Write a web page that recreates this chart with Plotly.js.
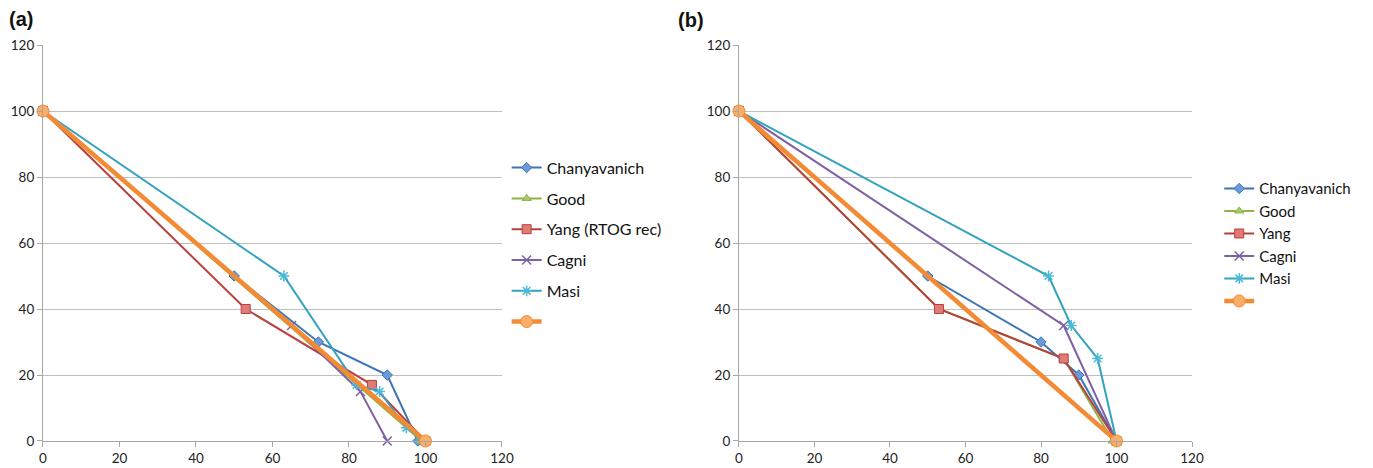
<!DOCTYPE html>
<html><head><meta charset="utf-8">
<script src="https://cdn.plot.ly/plotly-3.0.1.min.js"></script>
<style>html,body{margin:0;padding:0;background:#fff;}#c{width:1373px;height:468px;}</style>
</head><body><div id="c"></div>
<script>
// Panel (a)
const aChanX = [0, 50, 72, 90, 98, 100];
const aChanY = [100, 50, 30, 20, 0, 0];
const aGoodX = [0, 99];
const aGoodY = [100, 0];
const aYangX = [0, 53, 86, 100];
const aYangY = [100, 40, 17, 0];
const aCagniX = [0, 65, 83, 90];
const aCagniY = [100, 35, 15, 0];
const aMasiX = [0, 63, 82, 88, 95, 100];
const aMasiY = [100, 50, 17, 15, 4, 0];
const aRefX = [0, 100];
const aRefY = [100, 0];
// Panel (b)
const bChanX = [0, 50, 80, 90, 100];
const bChanY = [100, 50, 30, 20, 0];
const bGoodX = [0, 53, 86, 99];
const bGoodY = [100, 40, 25, 0];
const bYangX = [0, 53, 86, 100];
const bYangY = [100, 40, 25, 0];
const bCagniX = [0, 86, 100];
const bCagniY = [100, 35, 0];
const bMasiX = [0, 82, 88, 95, 100];
const bMasiY = [100, 50, 35, 25, 0];
const bRefX = [0, 100];
const bRefY = [100, 0];
const namesA = ['Chanyavanich', 'Good', 'Yang (RTOG rec)', 'Cagni', 'Masi', ' '];
const namesB = ['Chanyavanich', 'Good', 'Yang', 'Cagni', 'Masi', ' '];
const xTicks = [0, 20, 40, 60, 80, 100, 120];
const yTicks = [0, 20, 40, 60, 80, 100, 120];

const styles = [
  {line:{color:'#3d74b8', width:2}, marker:{symbol:'diamond', size:8, color:'#6b9bd6', line:{color:'#3d74b8', width:1}}},
  {line:{color:'#8db444', width:2}, marker:{symbol:'triangle-up', size:8, color:'#a6c96a', line:{color:'#8db444', width:1}}},
  {line:{color:'#b8413e', width:2}, marker:{symbol:'square', size:9, color:'#e07b78', line:{color:'#b8413e', width:1}}},
  {line:{color:'#7e61a3', width:2}, marker:{symbol:'x-thin', size:9, color:'#7e61a3', line:{color:'#7e61a3', width:1.5}}},
  {line:{color:'#33a3bf', width:2}, marker:{symbol:'asterisk', size:9, color:'#4bb8d4', line:{color:'#4bb8d4', width:1.5}}},
  {line:{color:'#f38b34', width:4.5}, marker:{symbol:'circle', size:12, color:'#fbae68', line:{color:'#f38b34', width:1}}}
];

const dataA = [[aChanX,aChanY],[aGoodX,aGoodY],[aYangX,aYangY],[aCagniX,aCagniY],[aMasiX,aMasiY],[aRefX,aRefY]];
const dataB = [[bChanX,bChanY],[bGoodX,bGoodY],[bYangX,bYangY],[bCagniX,bCagniY],[bMasiX,bMasiY],[bRefX,bRefY]];
const traces = [];
dataA.forEach((d,i)=>traces.push({x:d[0], y:d[1], type:'scatter', mode:'lines+markers', name:namesA[i],
  xaxis:'x', yaxis:'y', legend:'legend', legendgroup:'a'+i, line:styles[i].line, marker:styles[i].marker, cliponaxis:false}));
dataB.forEach((d,i)=>traces.push({x:d[0], y:d[1], type:'scatter', mode:'lines+markers', name:namesB[i],
  xaxis:'x2', yaxis:'y2', legend:'legend2', legendgroup:'b'+i, line:styles[i].line, marker:styles[i].marker, cliponaxis:false}));

const fnt = {family:'Lato, "Open Sans", sans-serif', size:13.5, color:'#222'};
function xax(dom, anchor){return {domain:dom, anchor:anchor, range:[0,120], tickvals:xTicks, ticktext:xTicks.map(String),
  showgrid:false, zeroline:false, showline:true, linecolor:'#a6a6a6', linewidth:1, ticks:'outside', ticklen:5, tickcolor:'#a6a6a6', tickfont:fnt, fixedrange:true};}
function yax(anchor){return {domain:[0.0577,0.9038], anchor:anchor, range:[0,120], tickvals:yTicks, ticktext:yTicks.map(String),
  showgrid:true, gridcolor:'#bfbfbf', gridwidth:1, zeroline:false, showline:true, linecolor:'#a6a6a6', ticks:'outside', ticklen:5, tickcolor:'#a6a6a6', tickfont:fnt, fixedrange:true};}

const legFontA = {family:'Lato, "Open Sans", sans-serif', size:16, color:'#111'};
const legFontB = {family:'Lato, "Open Sans", sans-serif', size:15, color:'#111'};
const layout = {
  width:1373, height:468, margin:{l:0,r:0,t:0,b:0}, paper_bgcolor:'#fff', plot_bgcolor:'#fff', showlegend:true,
  xaxis: xax([0.0313,0.3656],'y'), yaxis: yax('x'),
  xaxis2: xax([0.5382,0.8682],'y2'), yaxis2: yax('x2'),
  legend:{x:0.369, y:0.678, xanchor:'left', yanchor:'top', font:legFontA, tracegroupgap:7, traceorder:'grouped', bgcolor:'rgba(0,0,0,0)', itemwidth:30},
  legend2:{x:0.888, y:0.632, xanchor:'left', yanchor:'top', font:legFontB, tracegroupgap:0, traceorder:'grouped', bgcolor:'rgba(0,0,0,0)', itemwidth:30},
  annotations:[
    {text:'<b>(a)</b>', x:7/1373, y:1-19/468, xref:'paper', yref:'paper', xanchor:'left', yanchor:'middle', showarrow:false, font:{family:'Liberation Sans, Arial, sans-serif', size:20, color:'#111'}},
    {text:'<b>(b)</b>', x:676/1373, y:1-20/468, xref:'paper', yref:'paper', xanchor:'left', yanchor:'middle', showarrow:false, font:{family:'Liberation Sans, Arial, sans-serif', size:20, color:'#111'}}
  ]
};
Plotly.newPlot('c', traces, layout, {displayModeBar:false, staticPlot:true});
</script></body></html>
